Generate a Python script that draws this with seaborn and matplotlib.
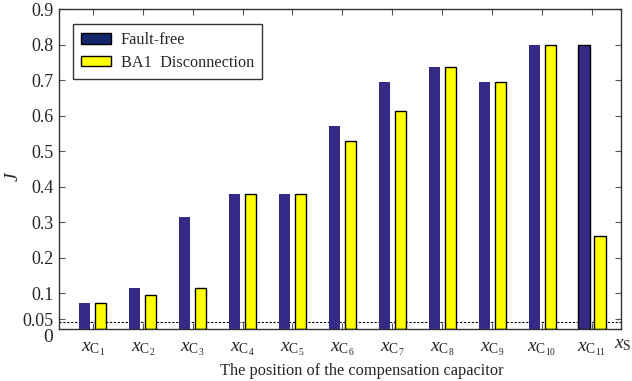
import matplotlib
matplotlib.use("Agg")
import matplotlib.pyplot as plt
import seaborn as sns
import pandas as pd
from matplotlib.patches import Patch

categories = [r"$x_{\mathrm{C}_{1}}$", r"$x_{\mathrm{C}_{2}}$", r"$x_{\mathrm{C}_{3}}$", r"$x_{\mathrm{C}_{4}}$",
              r"$x_{\mathrm{C}_{5}}$", r"$x_{\mathrm{C}_{6}}$", r"$x_{\mathrm{C}_{7}}$", r"$x_{\mathrm{C}_{8}}$",
              r"$x_{\mathrm{C}_{9}}$", r"$x_{\mathrm{C}_{10}}$", r"$x_{\mathrm{C}_{11}}$"]
fault_free = [0.073, 0.116, 0.315, 0.38, 0.38, 0.571, 0.694, 0.737, 0.694, 0.799, 0.799]
ba1_disc = [0.073, 0.097, 0.114, 0.38, 0.38, 0.529, 0.612, 0.737, 0.694, 0.799, 0.262]
series_names = ["Fault-free", "BA1  Disconnection"]
threshold = 0.019
ytick_vals = [0, 0.027, 0.1, 0.2, 0.3, 0.4, 0.5, 0.6, 0.7, 0.8, 0.9]
ytick_labels = ["0", "0.05", "0.1", "0.2", "0.3", "0.4", "0.5", "0.6", "0.7", "0.8", "0.9"]

df = pd.DataFrame({
    "pos": categories * 2,
    "J": fault_free + ba1_disc,
    "series": [series_names[0]] * len(categories) + [series_names[1]] * len(categories),
})

sns.set_style("ticks")
plt.rcParams["font.family"] = ["Liberation Serif", "DejaVu Serif"]
plt.rcParams["mathtext.fontset"] = "custom"
plt.rcParams["mathtext.rm"] = "Liberation Serif"
plt.rcParams["mathtext.it"] = "Liberation Serif:italic"

fig = plt.figure(figsize=(6.32, 3.81), dpi=100)
ax = fig.add_axes([0.0934, 0.1365, 0.8892, 0.8395])

blue = "#362A87"
yellow = "#FFFF00"
sns.barplot(data=df, x="pos", y="J", hue="series", order=categories,
            hue_order=series_names, palette=[blue, yellow], width=0.64, gap=0.3,
            ax=ax, legend=False, saturation=1)

for p in ax.patches:
    fc = p.get_facecolor()
    if fc[0] > 0.9:
        p.set_edgecolor("black")
        p.set_linewidth(1.0)
    else:
        p.set_edgecolor(blue)
        p.set_linewidth(0)
blue_patches = [p for p in ax.patches if p.get_facecolor()[0] < 0.5]
if blue_patches:
    last = max(blue_patches, key=lambda p: p.get_x())
    last.set_edgecolor("black")
    last.set_linewidth(1.0)

ax.axhline(threshold, color="black", linestyle=(0, (2, 1.5)), linewidth=0.8, zorder=0.5)

ax.set_xlim(-0.675, 10.58)
ax.set_ylim(0, 0.9)
ax.set_yticks(ytick_vals)
ax.set_yticklabels(ytick_labels, fontsize=13)
ax.tick_params(axis="y", direction="in", right=True, length=4, color="#555555", pad=4)
ax.tick_params(axis="x", direction="in", top=True, length=4, color="#555555", labelsize=14, pad=8)
ylabs = ax.get_yticklabels()
ylabs[0].set_va("top")
ylabs[0].set_fontsize(14)
ax.set_ylabel("$J$", fontsize=14)
ax.yaxis.set_label_coords(-0.066, 0.478)
ax.set_xlabel("The position of the compensation capacitor", fontsize=11.8)
ax.xaxis.set_label_coords(0.538, -0.105)
ax.text(10.62, -0.02, r"$x_{\mathrm{S}}$", fontsize=14, ha="center", va="top",
        transform=ax.transData, clip_on=False)

for s in ax.spines.values():
    s.set_color("#333333")
    s.set_linewidth(1.0)

handles = [Patch(facecolor="#13286C", edgecolor="black", linewidth=1.0, label=series_names[0]),
           Patch(facecolor=yellow, edgecolor="black", linewidth=1.0, label=series_names[1])]
leg = ax.legend(handles=handles, loc="upper left", bbox_to_anchor=(0.0249, 0.953),
                borderaxespad=0, fontsize=11.7, frameon=True, fancybox=False, edgecolor="black",
                borderpad=0.5, handlelength=1.85, handleheight=0.6, labelspacing=0.4,
                handletextpad=0.6)
leg.get_frame().set_linewidth(1.0)

fig.savefig("out.png", dpi=100)
